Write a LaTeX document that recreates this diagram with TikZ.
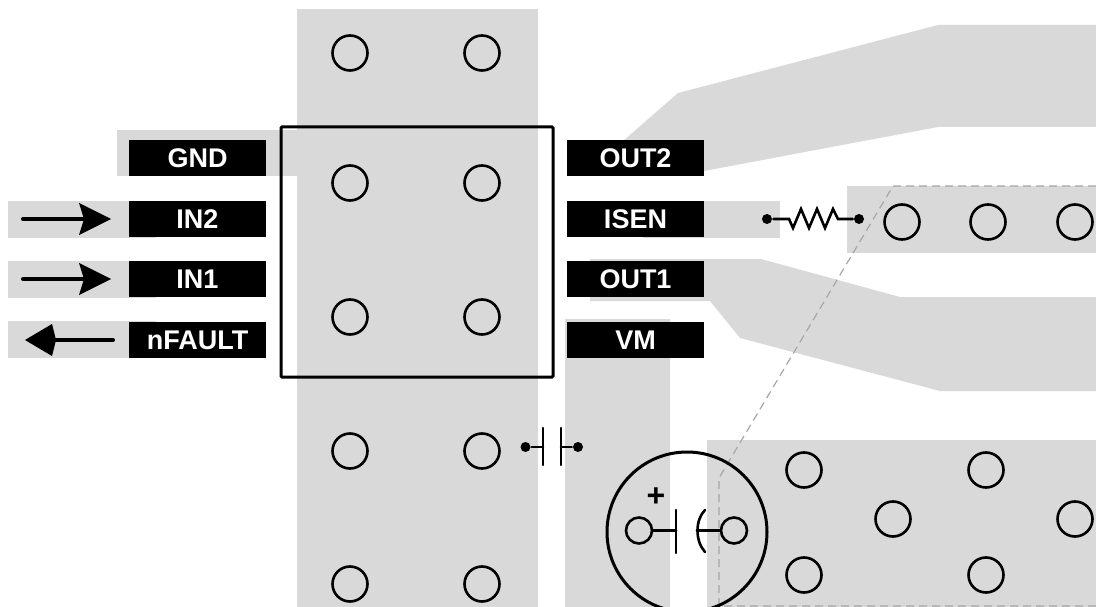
\documentclass[tikz,border=0pt]{standalone}
\usepackage{fontspec}
\setmainfont{Liberation Sans}
\definecolor{padGray}{HTML}{D9D9D9}
\definecolor{outlineGray}{HTML}{A6A6A6}
\def\arrowInCoords{\coordinate (A) at (23,0);\coordinate (B) at (84,0);\coordinate (C) at (79,-16);\coordinate (D) at (111,0);\coordinate (E) at (79,16);}
\def\arrowOutCoords{\coordinate (A) at (113,0);\coordinate (B) at (56,0);\coordinate (C) at (52,-16);\coordinate (D) at (25,0);\coordinate (E) at (52,16);}
\tikzset{
	pinLabel/.style={fill=black, text=white, font=\bfseries\fontsize{27}{27}\selectfont, minimum width=137pt, minimum height=36pt, inner sep=0pt},
	viaHole/.style={draw=black, circle, minimum size=35pt, inner sep=0pt, line width=2.6pt},
	capPad/.style={draw=black, circle, minimum size=26pt, inner sep=0pt, line width=2.6pt},
	termDot/.style={fill=black, circle, minimum size=10pt, inner sep=0pt},
}

\begin{document}
\begin{tikzpicture}[x=1pt, y=-1pt, line cap=round, line width=2.6pt]
		\useasboundingbox (0,0) rectangle (1096,607);
		\clip (0,0) rectangle (1096,607);
		
		% copper
		\begin{scope}[line width=0pt]
			\fill[padGray] (297,9) rectangle (538,607);
			\fill[padGray] (117,130) rectangle (297,176);
			\fill[padGray] (8,201) rectangle (156,238);
			\fill[padGray] (8,261) rectangle (156,298);
			\fill[padGray] (8,321) rectangle (156,358);
			\fill[padGray] (623,141)--(678,93)--(938,25)--(1096,25)--(1096,127)--(938,127)--(704,171)--(623,171)--cycle;
			\fill[padGray] (643,201) rectangle (780,238);
			\fill[padGray] (590,259)--(761,259)--(900,297)--(1096,297)--(1096,391)--(940,391)--(740,338)--(710,301)--(590,301)--cycle;
			\fill[padGray] (565,319) rectangle (670,607);
			\fill[padGray] (847,186) rectangle (1096,253);
			\fill[padGray] (707,440) rectangle (1096,607);
		\end{scope}
		
		% board outline
		\draw[outlineGray, line width=1.2pt, dash pattern=on 8pt off 5pt, line cap=butt] (1096,186)--(893,186)--(719,478)--(719,606)--(1096,606);
		
		% package
		\draw[line width=3pt, rounded corners=1pt] (281,127) rectangle (553,377);
		
		% pins
		\node[pinLabel] (gnd) at (197.5,158.5) {GND};
		\node[pinLabel] (in2) at (197.5,219) {IN2};
		\node[pinLabel] (in1) at (197.5,279) {IN1};
		\node[pinLabel] (nfault) at (197.5,340) {nFAULT};
		\node[pinLabel] (out2) at (635.5,158.5) {OUT2};
		\node[pinLabel] (isen) at (635.5,219) {ISEN};
		\node[pinLabel] (out1) at (635.5,279) {OUT1};
		\node[pinLabel] (vm) at (635.5,340) {VM};
		
		% signal arrows
		\begin{scope}[shift={(0,219)}]
			\arrowInCoords
			\draw[line width=4pt] (A)--(B);
			\fill (C)--(D)--(E)--(B)--cycle;
		\end{scope}
		
		\begin{scope}[shift={(0,279)}]
			\arrowInCoords
			\draw[line width=4pt] (A)--(B);
			\fill (C)--(D)--(E)--(B)--cycle;
		\end{scope}
		
		\begin{scope}[shift={(0,340)}]
			\arrowOutCoords
			\draw[line width=4pt] (A)--(B);
			\fill (C)--(D)--(E)--(B)--cycle;
		\end{scope}
		
		% vias (centre column)
		\node[viaHole] (via1) at (350,53) {};
		\node[viaHole] (via2) at (482,53) {};
		\node[viaHole] (via3) at (350,183) {};
		\node[viaHole] (via4) at (482,183) {};
		\node[viaHole] (via5) at (350,317) {};
		\node[viaHole] (via6) at (482,317) {};
		\node[viaHole] (via7) at (350,451) {};
		\node[viaHole] (via8) at (482,451) {};
		\node[viaHole] (via9) at (350,584) {};
		\node[viaHole] (via10) at (482,584) {};
		
		% vias (sense pad)
		\node[viaHole] (via11) at (902,222) {};
		\node[viaHole] (via12) at (988,222) {};
		\node[viaHole] (via13) at (1075,222) {};
		
		% vias (bottom pad)
		\node[viaHole] (via14) at (804,470) {};
		\node[viaHole] (via15) at (986,470) {};
		\node[viaHole] (via16) at (893,519) {};
		\node[viaHole] (via17) at (1075,519) {};
		\node[viaHole] (via18) at (804,575) {};
		\node[viaHole] (via19) at (986,575) {};
		
		% sense resistor
		\node[termDot] (resL) at (767,219) {};
		\node[termDot] (resR) at (859,219) {};
		\draw (resL)--(789,219)--(793,228)--(801,209)--(809,228)--(817,209)--(825,228)--(833,209)--(838,219)--(resR);
		
		% bypass cap
		\node[termDot] (capL) at (525.5,447) {};
		\node[termDot] (capR) at (578,447) {};
		\coordinate (plateL) at (543,447);
		\coordinate (plateR) at (561,447);
		\draw (capL)--(plateL);
		\draw (capR)--(plateR);
		\draw (543,428)--(543,465);
		\draw (561,428)--(561,465);
		
		% bulk cap
		\draw[line width=3pt] (687,532) circle (80);
		\node[capPad] (bulkP) at (639,530.5) {};
		\node[capPad] (bulkN) at (734,530.5) {};
		\coordinate (plateP) at (676,530.5);
		\coordinate (plateN) at (697,530.5);
		\draw (bulkP)--(plateP);
		\draw (bulkN)--(plateN);
		\draw (676,510)--(676,553);
		\draw (705,510) .. controls (695,520) and (695,541) .. (705,552);
		\node[font=\bfseries\fontsize{32}{32}\selectfont, inner sep=0pt] (plus) at (656,497) {+};
\end{tikzpicture}
\end{document}
